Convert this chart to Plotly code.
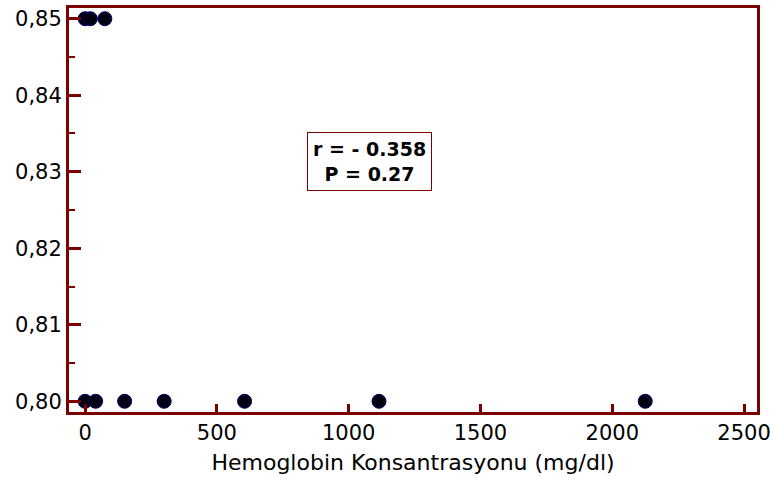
import plotly.graph_objects as go

# Data
hemoglobin = [0, 20, 75, 0, 40, 150, 300, 605, 1115, 2125]
ratio = [0.85, 0.85, 0.85, 0.80, 0.80, 0.80, 0.80, 0.80, 0.80, 0.80]
y_ticks = [0.80, 0.81, 0.82, 0.83, 0.84, 0.85]
x_ticks = [0, 500, 1000, 1500, 2000, 2500]
stats_text = "r = - 0.358<br>P = 0.27"

maroon = "#7B0000"

fig = go.Figure()
fig.add_trace(go.Scatter(
    x=hemoglobin, y=ratio, mode="markers",
    marker=dict(size=14, color="#000010", line=dict(color="#00006E", width=1)),
    showlegend=False, cliponaxis=False,
))

fig.add_annotation(
    x=1080, y=0.8313, xref="x", yref="y", text=stats_text, showarrow=False,
    font=dict(family="DejaVu Sans, Arial, sans-serif", size=19, color="black", weight="bold"),
    bordercolor=maroon, borderwidth=1, borderpad=5, bgcolor="white",
)

axis_font = dict(family="DejaVu Sans, Arial, sans-serif", size=21, color="black")
title_font = dict(family="DejaVu Sans, Arial, sans-serif", size=22, color="black")

fig.update_layout(
    width=776, height=479,
    margin=dict(l=69, r=19, t=5, b=67),
    paper_bgcolor="white", plot_bgcolor="white",
    separators=",.",
    font=axis_font,
    xaxis=dict(
        range=[-61, 2549], tickvals=x_ticks, ticks="inside", ticklen=8, tickwidth=3,
        tickcolor=maroon, showline=True, linecolor=maroon, linewidth=3, mirror=True,
        showgrid=False, zeroline=False, tickfont=axis_font,
        title=dict(text="Hemoglobin Konsantrasyonu (mg/dl)", font=title_font, standoff=11),
    ),
    yaxis=dict(
        range=[0.7986, 0.8514], tickvals=y_ticks, tickformat=".2f", ticks="inside",
        ticklen=12, tickwidth=3, tickcolor=maroon, showline=True, linecolor=maroon,
        linewidth=3, mirror=True, showgrid=False, zeroline=False, tickfont=axis_font,
        minor=dict(dtick=0.005, tick0=0.8, ticks="inside", ticklen=6, tickwidth=2, tickcolor=maroon),
    ),
)

fig.write_html("out.html")
